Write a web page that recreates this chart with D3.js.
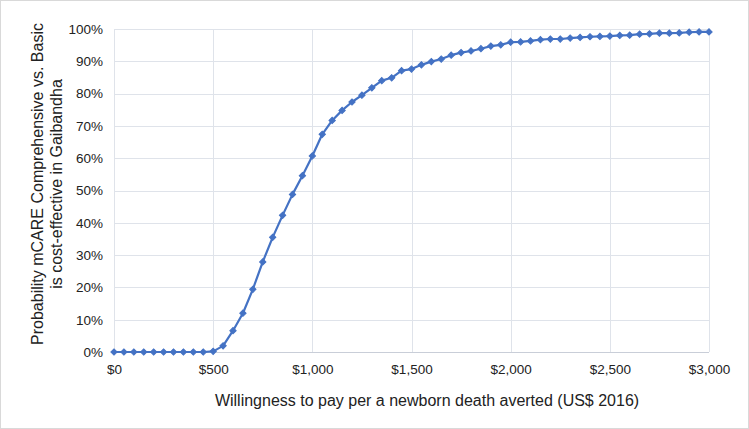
<!DOCTYPE html>
<html>
<head>
<meta charset="utf-8">
<script src="https://cdn.jsdelivr.net/npm/d3@7"></script>
<style>
  body { margin: 0; background: #fff; }
  svg { display: block; font-family: "Liberation Sans", Arial, sans-serif; }
</style>
</head>
<body>
<div id="viz"></div>
<script>
var w = 749;
var h = 429;

// willingness to pay, US$ (every 50)
var wtp = d3.range(0, 3001, 50);

// probability cost-effective (%)
var prob = [
  0, 0, 0, 0, 0, 0, 0, 0, 0, 0,
  0.2, 1.9, 6.6, 12.0, 19.4, 27.9, 35.5, 42.3, 48.8, 54.6,
  60.7, 67.4, 71.7, 74.8, 77.4, 79.5, 81.8, 84.0, 84.9, 87.1,
  87.6, 88.9, 89.9, 90.7, 91.9, 92.7, 93.2, 93.9, 94.7, 95.1,
  95.9, 96.0, 96.3, 96.7, 96.9, 96.9, 97.2, 97.4, 97.6, 97.7,
  97.8, 98.0, 98.1, 98.4, 98.5, 98.7, 98.7, 98.8, 99.0, 99.1,
  99.1
];

var xTicks = [0, 500, 1000, 1500, 2000, 2500, 3000];
var yTicks = [0, 10, 20, 30, 40, 50, 60, 70, 80, 90, 100];

var yTitle = ["Probability mCARE Comprehensive vs. Basic", "is cost-effective in Gaibandha"];
var xTitle = "Willingness to pay per a newborn death averted (US$ 2016)";

// plot area edges ("top" is taken by window.top, so prefix these)
var plotLeft = 114, plotRight = 709, plotTop = 29, plotBottom = 352;

var svg = d3.select("#viz")
    .append("svg")
    .attr("width", w)
    .attr("height", h);

// outer chart border
svg.append("rect")
    .attr("x", 0.5).attr("y", 0.5)
    .attr("width", w - 1).attr("height", h - 1)
    .attr("fill", "#fff")
    .attr("stroke", "#d9d9d9");

var x = d3.scaleLinear().domain([0, 3000]).range([plotLeft, plotRight]);
var y = d3.scaleLinear().domain([0, 100]).range([plotBottom, plotTop]);

var grid = svg.append("g").attr("class", "grid");

// horizontal gridlines
grid.selectAll("line.h")
    .data(yTicks.slice(1))
    .enter().append("line")
    .attr("class", "h")
    .attr("x1", plotLeft).attr("x2", plotRight)
    .attr("y1", function (d) { return Math.round(y(d)) + 0.5; })
    .attr("y2", function (d) { return Math.round(y(d)) + 0.5; })
    .attr("stroke", "#dfe3ea");

// vertical gridlines
grid.selectAll("line.v")
    .data(xTicks)
    .enter().append("line")
    .attr("class", "v")
    .attr("y1", plotTop).attr("y2", plotBottom)
    .attr("x1", function (d) { return Math.round(x(d)) + 0.5; })
    .attr("x2", function (d) { return Math.round(x(d)) + 0.5; })
    .attr("stroke", "#dfe3ea");

// bottom axis line
svg.append("line")
    .attr("x1", plotLeft).attr("x2", plotRight)
    .attr("y1", plotBottom + 0.5).attr("y2", plotBottom + 0.5)
    .attr("stroke", "#c9ced8");

// y tick labels
var yAxis = d3.axisLeft(y)
    .tickValues(yTicks)
    .tickSize(0)
    .tickPadding(11)
    .tickFormat(function (d) { return d + "%"; });

var ya = svg.append("g")
    .attr("transform", "translate(" + plotLeft + ",0)")
    .call(yAxis);
ya.select(".domain").remove();
ya.selectAll("text")
    .attr("font-family", "Liberation Sans, Arial, sans-serif")
    .attr("font-size", 13.5)
    .attr("fill", "#222");

// x tick labels
var xAxis = d3.axisBottom(x)
    .tickValues(xTicks)
    .tickSize(0)
    .tickPadding(12)
    .tickFormat(function (d) { return "$" + d3.format(",")(d); });

var xa = svg.append("g")
    .attr("transform", "translate(0," + plotBottom + ")")
    .call(xAxis);
xa.select(".domain").remove();
xa.selectAll("text")
    .attr("font-family", "Liberation Sans, Arial, sans-serif")
    .attr("font-size", 13.5)
    .attr("fill", "#222");

// axis titles
svg.append("text")
    .attr("x", 427)
    .attr("y", 406)
    .attr("text-anchor", "middle")
    .attr("font-size", 16)
    .attr("fill", "#222")
    .text(xTitle);

var yt = svg.append("text")
    .attr("transform", "translate(43,184) rotate(-90)")
    .attr("text-anchor", "middle")
    .attr("font-size", 16)
    .attr("fill", "#222");
yt.selectAll("tspan")
    .data(yTitle)
    .enter().append("tspan")
    .attr("x", 0)
    .attr("dy", function (d, i) { return i == 0 ? 0 : 18.5; })
    .text(function (d) { return d; });

// curve
var pts = wtp.map(function (d, i) { return [d, prob[i]]; });

var line = d3.line()
    .x(function (d) { return x(d[0]); })
    .y(function (d) { return y(d[1]); });

svg.append("path")
    .datum(pts)
    .attr("d", line)
    .attr("fill", "none")
    .attr("stroke", "#4472c4")
    .attr("stroke-width", 2.2)
    .attr("stroke-linejoin", "round");

// diamond markers
var diamond = d3.symbol().type(d3.symbolSquare).size(20);

svg.append("g").selectAll("path")
    .data(pts)
    .enter().append("path")
    .attr("d", diamond)
    .attr("transform", function (d) {
        return "translate(" + x(d[0]) + "," + y(d[1]) + ") rotate(45)";
    })
    .attr("fill", "#4472c4")
    .attr("stroke", "#4472c4")
    .attr("stroke-width", 1);
</script>
</body>
</html>
